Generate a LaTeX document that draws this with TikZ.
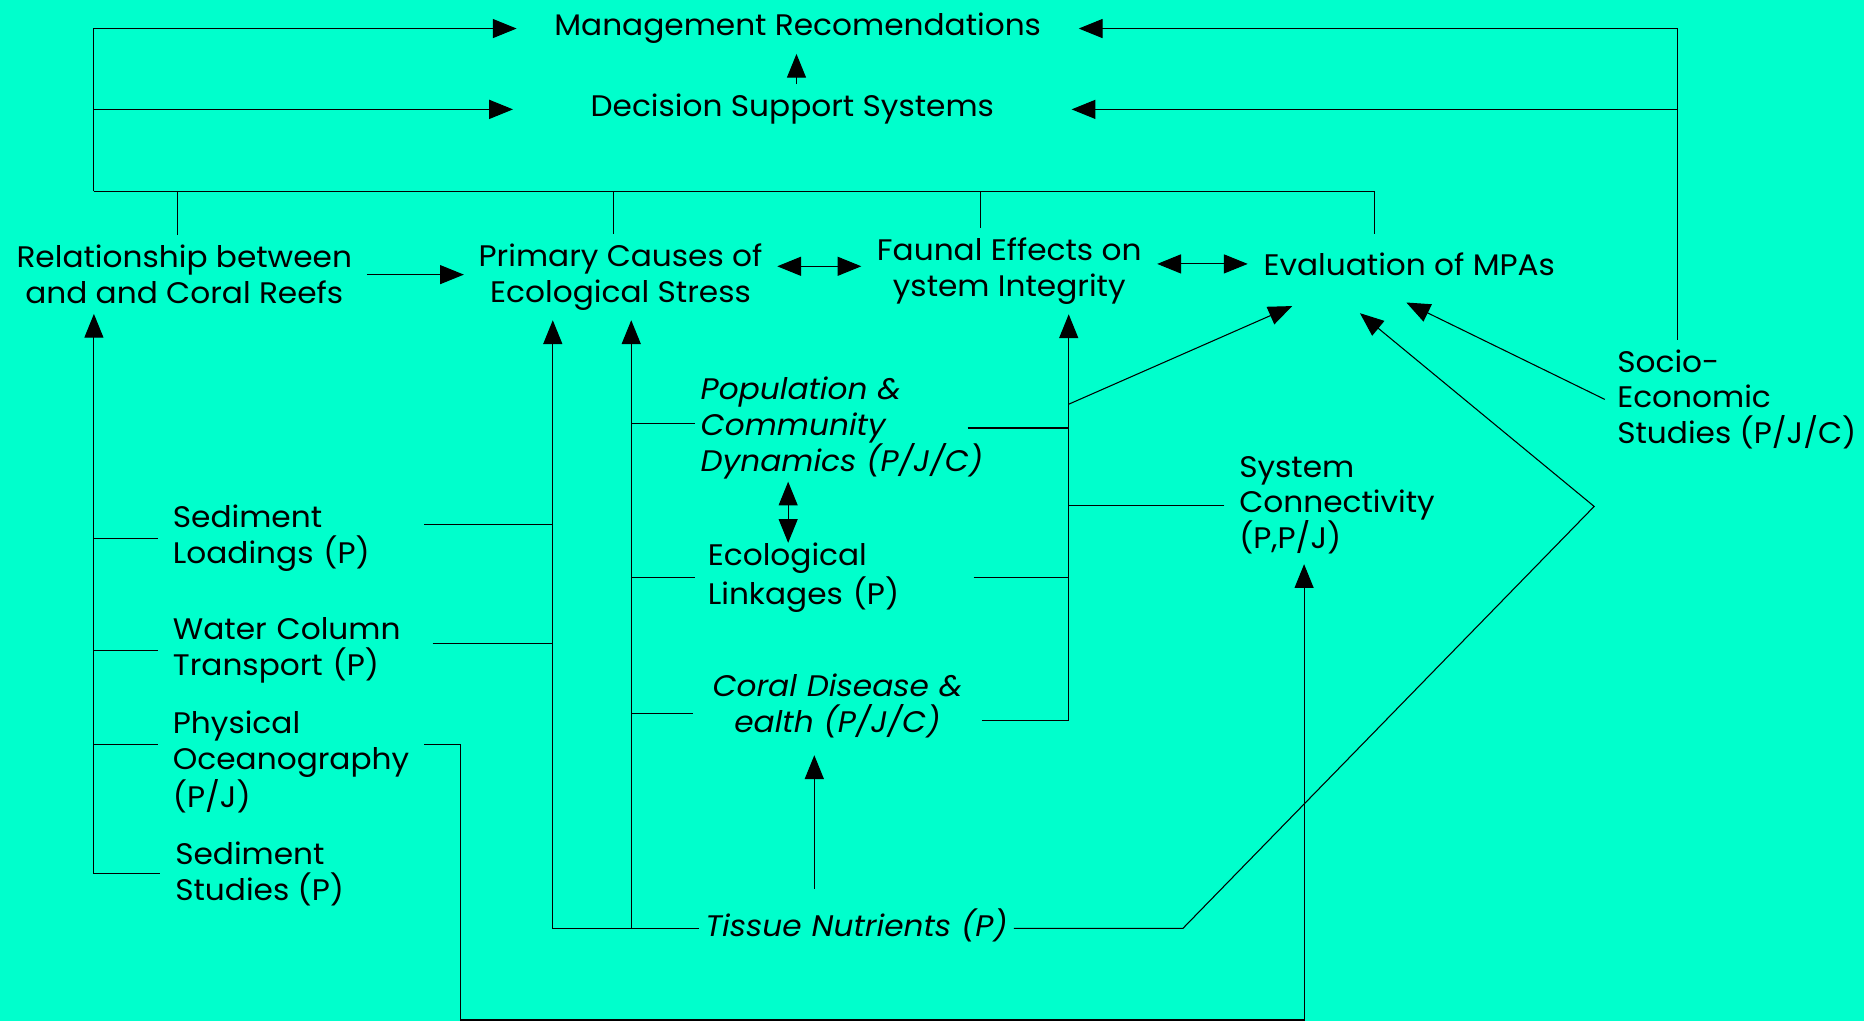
\documentclass[tikz,border=0pt]{standalone}
\usepackage{fontspec}
\setmainfont{Poppins}[FakeStretch=1.05]
\usetikzlibrary{arrows.meta}
\definecolor{reefbg}{RGB}{0,255,204}

\begin{document}
\begin{tikzpicture}[x=0.5pt, y=-0.5pt, >={Triangle[length=10pt, width=8pt]}, line width=0.45pt,
  every node/.style={font=\fontsize{12.5}{15}\selectfont, inner xsep=6pt, inner ysep=4pt},
  box/.style={align=center},
  lbl/.style={anchor=west, align=left},
  itl/.style={font=\fontsize{12.5}{15}\selectfont\itshape}]
  \fill[reefbg] (0,0) rectangle (1568,859);
  \useasboundingbox (0,0) rectangle (1568,859);

  % top and middle row
  \node[box, minimum width=236pt] (mgmt) at (671,24) {Management Recomendations};
  \node[box, minimum width=234.5pt] (dss) at (666.5,92) {Decision Support Systems};
  \node[box, minimum width=152pt] (rel) at (155,231) {Relationship between\\and and Coral Reefs};
  \node[box, minimum width=127pt] (pcs) at (522,233) {Primary Causes of\\Ecological Stress};
  \node[box, minimum width=124pt] (fe) at (849,228) {Faunal Effects on\\ystem Integrity};
  \node[box, minimum width=135.5pt, minimum height=25pt] (eval) at (1185.5,222) {Evaluation of MPAs};
  \node[lbl, inner xsep=5pt] (socio) at (1350,336) {Socio-\\Economic\\Studies (P/J/C)};

  % left column
  \node[lbl, text width=99.5pt] (sed) at (133,453) {Sediment\\Loadings (P)};
  \node[lbl, text width=103pt] (wct) at (133,547) {Water Column\\Transport (P)};
  \node[lbl] (phy) at (133,641) {Physical\\Oceanography\\(P/J)};
  \node[lbl] (sst) at (135,735) {Sediment\\Studies (P)};

  % middle column
  \node[lbl, itl, inner xsep=2pt, text width=110pt] (pop) at (585,360) {Population \&\\Community\\Dynamics~(P/J/C)};
  \node[lbl, inner xsep=5pt, text width=106.5pt] (eco) at (585,486) {Ecological\\Linkages (P)};
  \node[lbl, itl, align=center, inner xsep=2pt, text width=117pt] (cdh) at (583,594) {Coral Disease \&\\ealth (P/J/C)};
  \node[lbl, itl, align=center, inner xsep=2pt, text width=128pt] (tis) at (588,778) {Tissue Nutrients (P)};
  \node[lbl] (syc) at (1030,425) {System\\Connectivity\\(P,P/J)};

  \coordinate (tL) at (79,161);
  \coordinate (tR) at (1156,161);
  \coordinate (tA) at (149,161);
  \coordinate (tP) at (516,161);
  \coordinate (tF) at (825,161);
  \coordinate (cD) at (670,0);
  \coordinate (sR) at (1411,0);
  \coordinate (sL) at (79,735);
  \coordinate (pO) at (358,626);
  \coordinate (pK) at (387,858);
  \coordinate (cS) at (1097,858);
  \coordinate (bB1) at (465,781);
  \coordinate (bB2) at (531,781);
  \coordinate (cE) at (663,430);
  \coordinate (cT) at (685,750);
  \coordinate (bF) at (899,606);
  \coordinate (jA) at (899,340);
  \coordinate (tK) at (995,781);
  \coordinate (tM) at (1341,426);

  % top bus
  \draw[->] (tL) |- (mgmt.west);
  \draw[->] (tL) |- (dss.west);
  \draw (tL) -- (tR) -- (eval.north -| tR);
  \draw (tA) -- (rel.north -| tA);
  \draw (tP) -- (pcs.north -| tP);
  \draw (tF) -- (fe.north -| tF);
  \draw[->] (dss.north -| cD) -- (mgmt.south -| cD);
  \draw[->] (socio.north -| sR) |- (mgmt.east);
  \draw[->] (socio.north -| sR) |- (dss.east);

  \draw[->] (rel.east) -- (rel.east -| pcs.west);
  \draw[<->] ([yshift=2pt]pcs.east |- fe.west) -- ([yshift=2pt]fe.west);
  \draw[<->] (fe.east |- eval.west) -- (eval.west);

  % left bus
  \draw[->] (sL) -- (rel.south -| sL);
  \draw (sL |- sed.west) -- (sed.west);
  \draw (sL |- wct.west) -- (wct.west);
  \draw (sL |- pO) -- (phy.west |- pO);
  \draw (sL) -- (sst.west);
  \draw ([yshift=6pt]sed.east) -- ([yshift=6pt]sed.east -| bB1);
  \draw ([yshift=3pt]wct.east) -- ([yshift=3pt]wct.east -| bB1);
  \draw[->] (phy.east |- pO) -| (pK) -| (syc.south -| cS);

  % middle bus
  \draw[->] ([yshift=-1.5pt]tis.west) -| (pcs.south -| bB1);
  \draw[->] ([yshift=-1.5pt]tis.west -| bB2) -- (pcs.south -| bB2);
  \draw ([yshift=2pt]pop.west -| bB2) -- ([yshift=2pt]pop.west);
  \draw (eco.west -| bB2) -- (eco.west);
  \draw ([yshift=-3pt]cdh.west -| bB2) -- ([yshift=-3pt]cdh.west);
  \draw[<->] ([yshift=3pt]pop.south -| cE) -- ([yshift=-4pt]eco.north -| cE);
  \draw[->] ([yshift=4pt]tis.north -| cT) -- ([yshift=-3pt]cdh.south -| cT);

  % right bus
  \draw[->] ([yshift=-6pt]cdh.east) -| (fe.south -| bF);
  \draw (pop.east) -- (pop.east -| bF);
  \draw (eco.east) -- (eco.east -| bF);
  \draw (syc.west) -- (syc.west -| bF);
  \draw[->] (jA) -- ([xshift=-49.25pt, yshift=-5pt]eval.south);
  \draw[->] ([yshift=-1.5pt]tis.east) -- ([yshift=-1.5pt]tis.east -| tK) -- (tM) -- ([xshift=-20.75pt, yshift=-8pt]eval.south);
  \draw[->] (socio.west) -- ([xshift=-1.25pt, yshift=-3.5pt]eval.south);
\end{tikzpicture}
\end{document}
